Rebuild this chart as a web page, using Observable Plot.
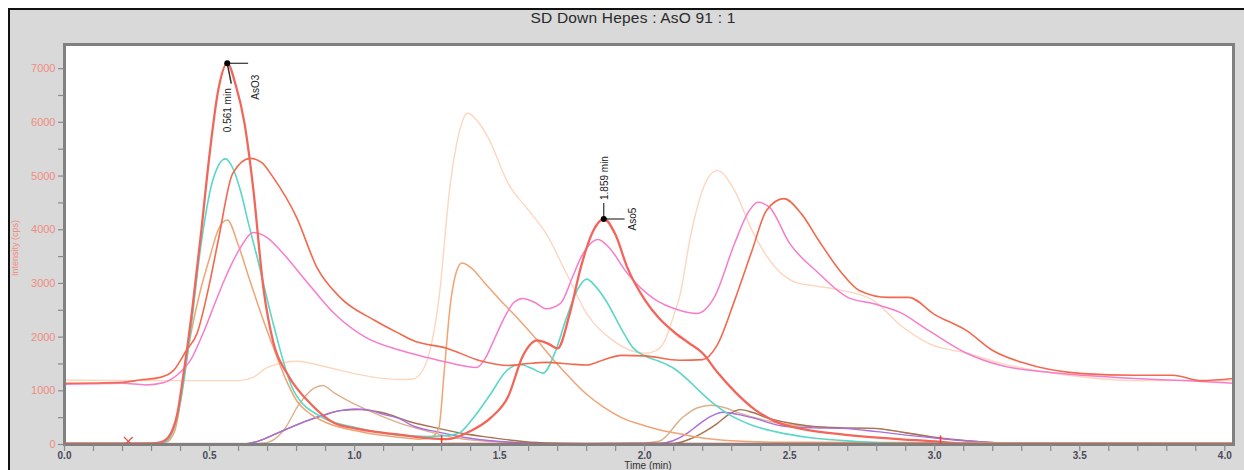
<!DOCTYPE html>
<html>
<head>
<meta charset="utf-8">
<script src="https://cdn.jsdelivr.net/npm/d3@7"></script>
<script src="https://cdn.jsdelivr.net/npm/@observablehq/plot@0.6"></script>
<style>
  html, body { margin: 0; padding: 0; background: #fff; }
  #wrap { position: relative; width: 1244px; height: 470px; overflow: hidden; font-family: "Liberation Sans", Arial, sans-serif; }
  #bg { position: absolute; left: 8px; top: 8px; width: 1240px; height: 470px; background: #d9d9d9; border-left: 2px solid #111; border-top: 2px solid #111; }
  #title { position: absolute; left: 333px; width: 600px; top: 9px; text-align: center; font-size: 15.5px; letter-spacing: 0.2px; color: #2a2a2a; }
  #ylab { position: absolute; left: 15px; top: 248px; transform: translate(-50%, -50%) rotate(-90deg); font-size: 9px; color: #f28c80; white-space: nowrap; }
  #xlab { position: absolute; left: 648px; top: 460px; transform: translateX(-50%); font-size: 10px; color: #333; white-space: nowrap; }
  #chart { position: absolute; left: 0; top: 0; }
</style>
</head>
<body>
<div id="wrap">
  <div id="bg"></div>
  <div id="chart"></div>
  <div id="title">SD Down Hepes : AsO 91 : 1</div>
  <div id="ylab">Intensity (cps)</div>
  <div id="xlab">Time (min)</div>
</div>
<script>
// ---- data (time in min, intensity in cps) ----
const asTotal = [[0,15],[0.2,15],[0.3,20],[0.33,40],[0.36,150],[0.39,600],[0.41,1300],[0.44,2500],[0.47,3900],[0.50,5400],[0.53,6600],[0.561,7100],[0.59,6700],[0.62,6000],[0.65,4800],[0.686,2900],[0.72,1900],[0.77,1300],[0.85,750],[0.93,400],[1.0,300],[1.08,230],[1.16,180],[1.25,120],[1.32,100],[1.4,250],[1.47,500],[1.53,900],[1.58,1650],[1.63,1940],[1.67,1870],[1.70,1790],[1.74,2400],[1.78,3300],[1.82,3950],[1.859,4200],[1.90,3900],[1.94,3300],[2.0,2700],[2.05,2350],[2.10,2100],[2.15,1900],[2.20,1700],[2.25,1350],[2.31,990],[2.38,650],[2.45,430],[2.55,280],[2.68,190],[2.85,110],[3.02,50],[3.1,15],[4.03,15]];
const cyan = [[0,10],[0.3,10],[0.34,30],[0.37,200],[0.40,800],[0.43,1900],[0.47,3700],[0.51,4900],[0.555,5320],[0.58,5150],[0.607,4720],[0.635,4100],[0.665,3470],[0.72,2240],[0.79,1000],[0.89,500],[1.0,320],[1.16,170],[1.25,150],[1.3,160],[1.355,200],[1.41,500],[1.47,950],[1.52,1350],[1.57,1490],[1.61,1420],[1.65,1330],[1.69,1700],[1.73,2350],[1.77,2900],[1.80,3080],[1.83,2950],[1.87,2650],[1.92,2150],[1.96,1800],[2.0,1650],[2.05,1550],[2.10,1420],[2.15,1200],[2.19,990],[2.24,750],[2.29,560],[2.37,360],[2.45,240],[2.58,120],[2.73,56],[2.9,20],[4.03,10]];
const orange = [[0,30],[0.3,30],[0.35,40],[0.38,250],[0.43,1900],[0.47,2900],[0.50,3470],[0.53,4000],[0.561,4180],[0.60,3700],[0.64,3040],[0.68,2400],[0.72,1810],[0.76,1250],[0.80,820],[0.85,560],[0.91,390],[1.0,260],[1.08,180],[1.16,130],[1.22,100],[1.26,120],[1.29,300],[1.31,1420],[1.33,2600],[1.35,3200],[1.37,3380],[1.40,3300],[1.45,3000],[1.50,2700],[1.55,2420],[1.62,2000],[1.69,1550],[1.75,1200],[1.80,935],[1.86,690],[1.92,500],[2.0,350],[2.06,260],[2.12,200],[2.2,120],[2.3,70],[2.5,40],[4.03,30]];
const pink = [[0,1120],[0.1,1130],[0.2,1140],[0.28,1110],[0.34,1150],[0.40,1350],[0.434,1565],[0.48,2100],[0.52,2650],[0.55,3050],[0.607,3670],[0.65,3950],[0.70,3850],[0.745,3610],[0.84,3000],[0.93,2440],[1.04,1990],[1.16,1750],[1.25,1620],[1.32,1530],[1.42,1435],[1.45,1600],[1.48,1940],[1.52,2400],[1.55,2650],[1.58,2720],[1.62,2650],[1.66,2530],[1.71,2630],[1.75,3100],[1.78,3480],[1.84,3820],[1.88,3650],[1.94,3190],[2.03,2720],[2.12,2500],[2.18,2440],[2.24,2740],[2.31,3745],[2.36,4350],[2.39,4510],[2.43,4420],[2.50,3745],[2.60,3190],[2.70,2740],[2.79,2620],[2.88,2460],[2.98,2120],[3.11,1700],[3.23,1470],[3.40,1340],[3.51,1290],[3.69,1230],[3.86,1190],[4.03,1140]];
const redOrange = [[0,1140],[0.2,1160],[0.26,1200],[0.33,1250],[0.376,1380],[0.42,1750],[0.457,2070],[0.50,3000],[0.53,3800],[0.58,5050],[0.64,5330],[0.68,5250],[0.72,4970],[0.80,4230],[0.87,3300],[0.95,2740],[1.07,2310],[1.16,2050],[1.20,1940],[1.32,1790],[1.43,1565],[1.53,1470],[1.60,1510],[1.66,1530],[1.74,1500],[1.80,1480],[1.86,1580],[1.92,1660],[2.0,1650],[2.12,1570],[2.20,1580],[2.25,1850],[2.31,2680],[2.37,3610],[2.42,4360],[2.48,4580],[2.54,4300],[2.60,3800],[2.68,3190],[2.74,2870],[2.84,2740],[2.91,2740],[3.0,2420],[3.11,2120],[3.20,1750],[3.30,1530],[3.51,1320],[3.69,1290],[3.82,1290],[3.92,1190],[4.03,1230]];
const peach = [[0,1200],[0.3,1190],[0.6,1190],[0.65,1250],[0.70,1435],[0.80,1550],[0.91,1435],[1.0,1320],[1.07,1250],[1.16,1210],[1.20,1220],[1.24,1435],[1.27,2000],[1.29,2680],[1.33,4860],[1.36,5800],[1.39,6170],[1.42,6050],[1.46,5720],[1.53,4860],[1.60,4360],[1.66,3930],[1.73,3190],[1.80,2440],[1.89,1940],[2.0,1700],[2.04,1750],[2.07,1940],[2.10,2400],[2.12,2740],[2.16,3930],[2.22,4980],[2.25,5100],[2.31,4730],[2.37,3990],[2.45,3300],[2.52,3020],[2.58,2960],[2.68,2870],[2.79,2680],[2.88,2230],[2.98,1880],[3.11,1700],[3.23,1510],[3.46,1290],[3.69,1190],[3.92,1190],[4.03,1190]];
const tan = [[0,20],[0.65,20],[0.70,40],[0.755,260],[0.81,760],[0.86,1050],[0.89,1100],[0.93,960],[0.975,820],[1.07,580],[1.16,390],[1.25,250],[1.35,120],[1.5,50],[1.8,20],[2.0,30],[2.05,60],[2.13,500],[2.18,680],[2.23,730],[2.28,680],[2.33,580],[2.45,410],[2.62,320],[2.79,300],[2.9,220],[3.02,110],[3.15,50],[3.3,20],[4.03,20]];
const purple = [[0,10],[0.62,10],[0.66,50],[0.72,180],[0.78,320],[0.84,450],[0.89,540],[0.95,630],[1.0,660],[1.05,640],[1.1,560],[1.16,470],[1.20,350],[1.29,230],[1.38,130],[1.47,70],[1.55,40],[1.7,15],[2.05,20],[2.10,75],[2.15,220],[2.19,390],[2.23,530],[2.27,600],[2.32,560],[2.37,500],[2.47,350],[2.58,310],[2.68,300],[2.8,240],[2.91,170],[3.02,110],[3.15,50],[3.3,15],[4.03,10]];
const brown = [[0,10],[0.62,10],[0.66,50],[0.72,180],[0.78,320],[0.84,450],[0.89,540],[0.95,630],[1.02,650],[1.09,600],[1.20,410],[1.29,300],[1.38,200],[1.47,130],[1.55,75],[1.65,30],[1.8,15],[2.1,20],[2.16,110],[2.21,250],[2.25,390],[2.29,560],[2.33,650],[2.37,600],[2.42,500],[2.56,350],[2.68,310],[2.79,300],[2.9,220],[3.02,120],[3.15,55],[3.3,15],[4.03,10]];
const baseRed = [[1.30,12],[3.02,12]];

// integration markers and peak annotations
const markerX = [0.22];
const markerTicks = [1.30, 3.02];
const markerHeight = 160;
const peakT = [0.561, 1.859];
const peakV = [7100, 4200];
const peakTime = ["0.561 min", "1.859 min"];
const peakName = ["AsO3", "Aso5"];

// ticks
const xMajor = [0, 0.5, 1.0, 1.5, 2.0, 2.5, 3.0, 3.5, 4.0];
const xMinor = d3.range(0, 41).map(i => i / 10);
const yMajor = [0, 1000, 2000, 3000, 4000, 5000, 6000, 7000];
const yMinor = d3.range(0, 7500, 500);

const series = [
  {name: "peach", pts: peach, color: "#fdd6be", w: 1.4},
  {name: "tan", pts: tan, color: "#dcb08a", w: 1.4},
  {name: "brown", pts: brown, color: "#a6724f", w: 1.4},
  {name: "purple", pts: purple, color: "#ac6ce0", w: 1.4},
  {name: "orange", pts: orange, color: "#f0a474", w: 1.5},
  {name: "cyan", pts: cyan, color: "#5ad7c6", w: 1.6},
  {name: "pink", pts: pink, color: "#f77ccb", w: 1.5},
  {name: "redOrange", pts: redOrange, color: "#f2694e", w: 1.6},
  {name: "baseRed", pts: baseRed, color: "#ee3a30", w: 2.2},
  {name: "asTotal", pts: asTotal, color: "#f2665a", w: 2.3}
];

const lineMarks = series.map(s => Plot.line(s.pts.map(([t, v]) => ({t, v})), {
  x: "t", y: "v", stroke: s.color, strokeWidth: s.w, curve: "monotone-x", clip: true
}));

const peaks = peakT.map((t, i) => ({t, v: peakV[i], time: peakTime[i], name: peakName[i]}));

const chart = Plot.plot({
  width: 1244,
  height: 470,
  marginLeft: 64,
  marginRight: 11,
  marginTop: 44,
  marginBottom: 26,
  style: {background: "transparent", fontFamily: "'Liberation Sans', Arial, sans-serif", overflow: "visible"},
  x: {domain: [0, 4.03]},
  y: {domain: [0, 7450]},
  marks: [
    Plot.frame({fill: "white", stroke: "none"}),
    ...lineMarks,
    Plot.dot(markerX, {x: d => d, y: 60, symbol: "times", r: 4, stroke: "#ee4a40", strokeWidth: 1.2}),
    Plot.ruleX(markerTicks, {x: d => d, y1: 0, y2: markerHeight, stroke: "#ee3a30", strokeWidth: 1.5}),
    // peak annotations
    Plot.link(peaks, {x1: "t", y1: "v", x2: d => d.t + 0.072, y2: "v", stroke: "#333", strokeWidth: 1.2}),
    Plot.link(peaks.slice(0, 1), {x1: "t", y1: "v", x2: d => d.t + 0.014, y2: d => d.v - 380, stroke: "#333", strokeWidth: 1.5}),
    Plot.link(peaks.slice(1), {x1: "t", y1: "v", x2: "t", y2: d => d.v + 300, stroke: "#333", strokeWidth: 1.2}),
    Plot.dot(peaks, {x: "t", y: "v", r: 3, fill: "#000"}),
    Plot.text(peaks.slice(0, 1), {x: "t", y: "v", text: "time", rotate: -90, textAnchor: "end", dy: 25, dx: 1, fontSize: 10, fill: "#222"}),
    Plot.text(peaks.slice(0, 1), {x: "t", y: "v", text: "name", rotate: -90, textAnchor: "middle", dy: 24, dx: 29, fontSize: 10, fill: "#222"}),
    Plot.text(peaks.slice(1), {x: "t", y: "v", text: "time", rotate: -90, textAnchor: "start", dy: -19, dx: 1, fontSize: 10, fill: "#222"}),
    Plot.text(peaks.slice(1), {x: "t", y: "v", text: "name", rotate: -90, textAnchor: "middle", dy: 0, dx: 29, fontSize: 10, fill: "#222"}),
    Plot.frame({stroke: "#808080", strokeWidth: 3}),
    Plot.axisX({ticks: xMinor, tickSize: 7, stroke: "#8a8a8a", strokeWidth: 1.2, fill: "none", label: null}),
    Plot.axisX({ticks: xMajor, tickSize: 0, tickPadding: 7, fill: "#4a4a58", fontWeight: "bold", fontSize: 10, tickFormat: d3.format(".1f"), label: null}),
    Plot.axisY({ticks: yMinor, tickSize: 6, stroke: "#8a8a8a", strokeWidth: 1.2, fill: "none", label: null}),
    Plot.axisY({ticks: yMajor, tickSize: 0, tickPadding: 9, fill: "#f08c80", fontSize: 11, tickFormat: d => String(d), label: null})
  ]
});
document.getElementById("chart").appendChild(chart);
</script>
</body>
</html>
